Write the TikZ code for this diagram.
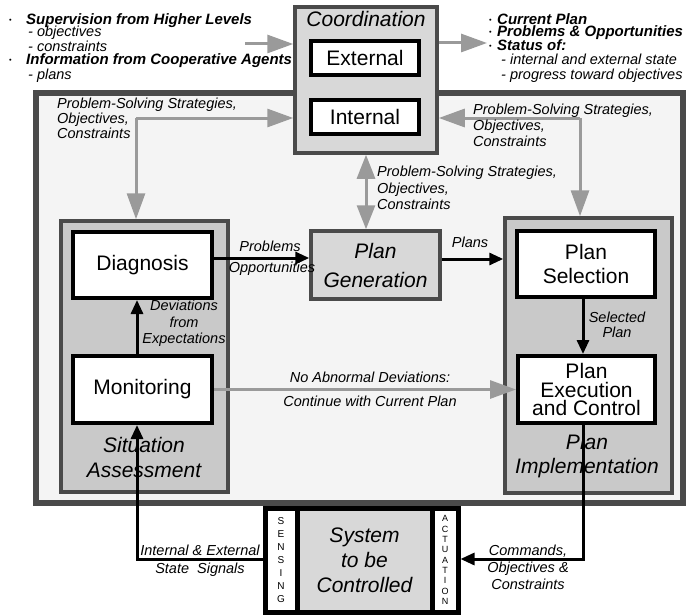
\documentclass[tikz,border=0pt]{standalone}
\usepackage{fontspec}
\setmainfont{Liberation Sans}
\usetikzlibrary{arrows.meta}

\definecolor{framegray}{HTML}{4A4A4A}
\definecolor{panelgray}{HTML}{F4F4F4}
\definecolor{groupgray}{HTML}{C9C9C9}
\definecolor{boxgray}{HTML}{D8D8D8}
\definecolor{arrowgray}{HTML}{9A9A9A}

\newcommand{\fs}[2]{\fontsize{#1}{#2}\selectfont}
\newcommand{\bul}{\raisebox{2pt}{\fs{7}{7}\textbullet}}

\begin{document}
\begin{tikzpicture}[x=1pt,y=-1pt,
  groupbox/.style={draw=framegray,line width=3.5pt,fill=groupgray,inner sep=0pt},
  graybox/.style={draw=framegray,line width=3.5pt,fill=boxgray,inner sep=0pt,
    align=center,font=\itshape\fs{21}{29}},
  funcbox/.style={draw=black,line width=4pt,fill=white,inner sep=0pt,
    align=center,font=\fs{21}{24}},
  grouplabel/.style={font=\itshape\fs{21}{24},align=center,inner sep=0pt},
  headlbl/.style={font=\bfseries\itshape\fs{15}{15},inner sep=0pt,anchor=base west},
  lbl/.style={font=\itshape\fs{14.5}{16},inner sep=0pt},
  letters/.style={draw=black,line width=5pt,fill=white,inner sep=0pt,align=center},
  gline/.style={draw=arrowgray,line width=3pt},
  garrow/.style={gline,-{Triangle[length=26pt,width=18pt]}},
  gdouble/.style={gline,{Triangle[length=24pt,width=18pt]}-{Triangle[length=24pt,width=18pt]}},
  barrow/.style={draw=black,line width=3pt,-{Triangle[length=14pt,width=12pt]}},
]

  \fill[white] (0,0) rectangle (692,615);
  \useasboundingbox (0,0) rectangle (692,615);

  % outer panel
  \draw[draw=framegray,line width=6pt,fill=panelgray] (36,93) rectangle (683,503);

  % inputs to coordination
  \node[headlbl] (sup) at (9,25) {\makebox[17pt][l]{\bul}Supervision from Higher Levels};
  \node[lbl,anchor=base west] (supobj) at (28,37) {- objectives};
  \node[lbl,anchor=base west] (supcon) at (28,52) {- constraints};
  \node[headlbl] (coop) at (9,65) {\makebox[17pt][l]{\bul}Information from Cooperative Agents};
  \node[lbl,anchor=base west] (coopplan) at (28,80) {- plans};

  % outputs of coordination
  \node[headlbl] (curplan) at (489,25) {\makebox[8pt][l]{\bul}Current Plan};
  \node[headlbl] (probopp) at (489,37) {\makebox[8pt][l]{\bul}Problems \& Opportunities};
  \node[headlbl] (status) at (489,51) {\makebox[8pt][l]{\bul}Status of:};
  \node[lbl,anchor=base west] (stint) at (501,65) {- internal and external state};
  \node[lbl,anchor=base west] (stprog) at (501,80) {- progress toward objectives};

  % coordination
  \node[graybox,minimum width=142pt,minimum height=146pt] (coord) at (366,80) {};
  \node[grouplabel,anchor=base] (coordlbl) at (366,27) {Coordination};
  \node[funcbox,minimum width=108pt,minimum height=34pt] (ext) at (365,58) {External};
  \node[funcbox,minimum width=108pt,minimum height=34pt] (int) at (365,117) {Internal};

  % situation assessment
  \node[groupbox,minimum width=167pt,minimum height=271pt] (sa) at (144.5,356.5) {};
  \node[funcbox,minimum width=139pt,minimum height=66pt] (diag) at (142.5,265) {Diagnosis};
  \node[funcbox,minimum width=139pt,minimum height=67pt] (mon) at (142.5,389.5) {Monitoring};
  \node[grouplabel,font=\itshape\fs{21}{25}] (salbl) at (144,457) {Situation\\Assessment};

  % plan generation
  \node[graybox,minimum width=129pt,minimum height=68pt] (plangen) at (375.5,265) {Plan\\Generation};

  % plan implementation
  \node[groupbox,minimum width=167pt,minimum height=275pt] (pi) at (588.5,355.5) {};
  \node[funcbox,minimum width=138pt,minimum height=66pt] (sel) at (586,264) {Plan\\Selection};
  \node[funcbox,minimum width=137pt,minimum height=67pt,font=\fs{21}{18.5}] (pec) at (586.5,389.5)
       {Plan\\Execution\\and Control};
  \node[grouplabel,font=\itshape\fs{21}{24}] (pilbl) at (587,456) {Plan\\Implementation};

  % controlled system
  \node[letters,minimum width=32pt,minimum height=104pt,font=\fs{10}{13}] (sensing) at (281,560)
       {S\\E\\N\\S\\I\\N\\G};
  \node[letters,fill=boxgray,minimum width=135pt,minimum height=104pt,font=\itshape\fs{21}{25}] (plant)
       at (364.5,560) {System\\to be\\Controlled};
  \node[letters,minimum width=26pt,minimum height=104pt,font=\fs{9}{10.3}] (actuation) at (445,560)
       {A\\C\\T\\U\\A\\T\\I\\O\\N};

  % gray links
  \coordinate (supin) at (245,44);
  \coordinate (statout) at (487,43);
  \coordinate (lpss) at (136,118);
  \coordinate (rpss) at (580,118);
  \draw[garrow] (supin) -- (supin -| coord.west);
  \draw[garrow] (coord.east |- statout) -- (statout);
  \draw[garrow] (lpss) -- (lpss -| coord.west);
  \draw[garrow] (lpss) -- (lpss |- sa.north);
  \draw[garrow] (rpss) -- (rpss -| coord.east);
  \draw[garrow] (rpss) -- (rpss |- pi.north);
  \draw[gdouble] (coord.south) -- (coord.south |- plangen.north);
  \draw[garrow] (mon.east) -- (pec.west);

  % black links
  \coordinate (fb) at (137,559);
  \coordinate (cmd) at (583,559);
  \draw[barrow] (sensing.west |- fb) -- (fb) -- (fb |- mon.south);
  \draw[barrow] (fb |- mon.north) -- (fb |- diag.south);
  \draw[barrow] ([yshift=7pt]diag.east) -- ([yshift=7pt]diag.east -| plangen.west);
  \draw[barrow] ([yshift=6pt]plangen.east) -- ([yshift=6pt]plangen.east -| pi.west);
  \draw[barrow] (sel.south -| cmd) -- (pec.north -| cmd);
  \draw[barrow] (pec.south -| cmd) -- (cmd) -- (cmd -| actuation.east);

  % link labels
  \node[lbl,anchor=north west,align=left,font=\itshape\fs{14.5}{15}] (lpsslbl) at (57,98)
       {Problem-Solving Strategies,\\Objectives,\\Constraints};
  \node[lbl,anchor=north west,align=left] (rpsslbl) at (473,104)
       {Problem-Solving Strategies,\\Objectives,\\Constraints};
  \node[lbl,anchor=north west,align=left,font=\itshape\fs{14.5}{16.5}] (cpsslbl) at (377,166)
       {Problem-Solving Strategies,\\Objectives,\\Constraints};
  \node[lbl,anchor=north,align=center,font=\itshape\fs{14.5}{16.5}] (devlbl) at (184,300)
       {Deviations\\from\\Expectations};
  \node[lbl,anchor=base] (problbl) at (270,251) {Problems};
  \node[lbl,anchor=base] (opplbl) at (272,272) {Opportunities};
  \node[lbl,anchor=base] (planslbl) at (470,247) {Plans};
  \node[lbl,anchor=north,align=center,font=\itshape\fs{14.5}{15}] (sellbl) at (617,312)
       {Selected\\Plan};
  \node[lbl,anchor=base] (noablbl) at (370,382) {No Abnormal Deviations:};
  \node[lbl,anchor=base] (contlbl) at (370,406) {Continue with Current Plan};
  \node[lbl,anchor=north,align=center,font=\itshape\fs{14.5}{18}] (siglbl) at (200,545)
       {Internal \& External\\State~ Signals};
  \node[lbl,anchor=north,align=center,font=\itshape\fs{14.5}{17}] (cmdlbl) at (528,545)
       {Commands,\\Objectives \&\\Constraints};

\end{tikzpicture}
\end{document}
